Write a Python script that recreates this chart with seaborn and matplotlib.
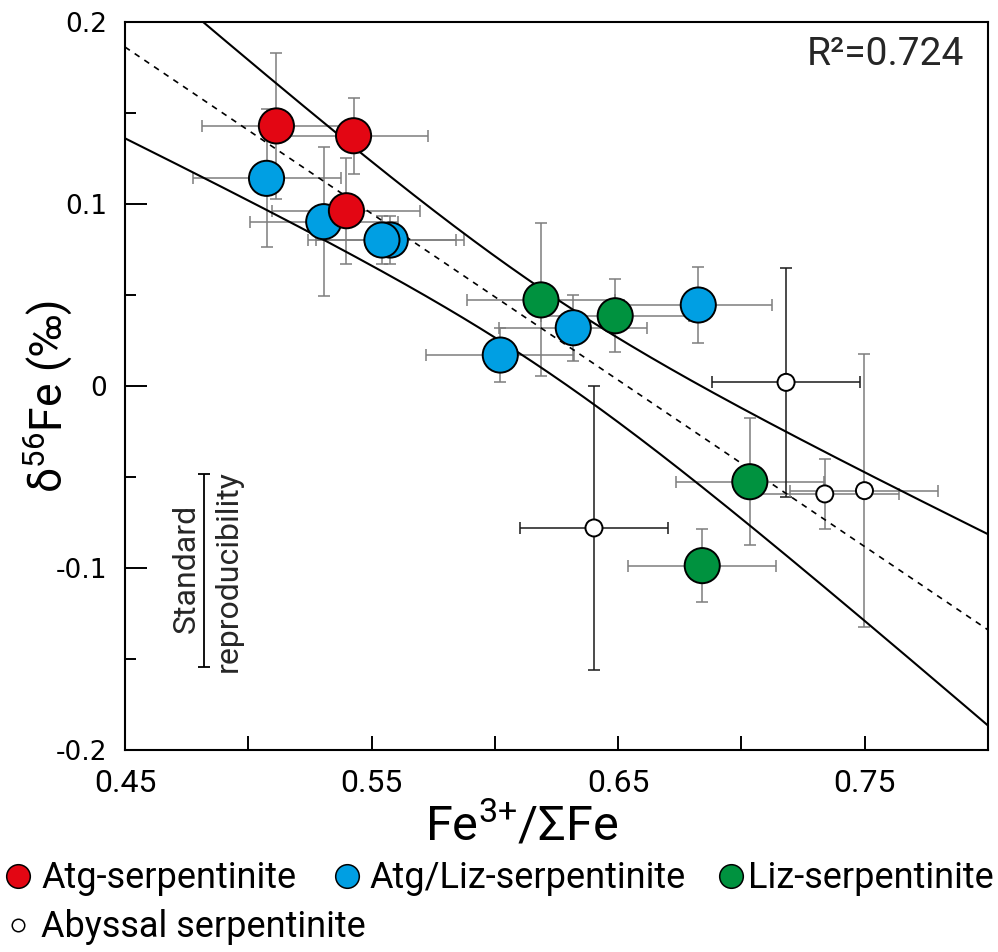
import numpy as np
import pandas as pd
import matplotlib
matplotlib.use("Agg")
import matplotlib.pyplot as plt
from matplotlib import font_manager
from matplotlib.lines import Line2D
from matplotlib.ticker import FixedLocator, FixedFormatter
import seaborn as sns

# ---- data: Fe3+/ΣFe against δ56Fe (‰), with 2SD error bars ----
atg_x = [0.5114, 0.5427, 0.5398]
atg_y = [0.1429, 0.1375, 0.0963]
atg_xerr = [0.030, 0.030, 0.030]
atg_yerr = [0.040, 0.021, 0.029]

atgliz_x = [0.5074, 0.5306, 0.5576, 0.5542, 0.6022, 0.6318, 0.6825]
atgliz_y = [0.1141, 0.0903, 0.0802, 0.0802, 0.0170, 0.0320, 0.0445]
atgliz_xerr = [0.030, 0.030, 0.030, 0.030, 0.030, 0.030, 0.030]
atgliz_yerr = [0.038, 0.041, 0.013, 0.013, 0.015, 0.018, 0.021]

liz_x = [0.6187, 0.6488, 0.7034, 0.6841]
liz_y = [0.0473, 0.0386, -0.0526, -0.0987]
liz_xerr = [0.030, 0.030, 0.030, 0.030]
liz_yerr = [0.042, 0.020, 0.035, 0.020]

abyssal_x = [0.7181, 0.7338, 0.7499, 0.6402]
abyssal_y = [0.0020, -0.0593, -0.0575, -0.0780]
abyssal_xerr = [0.030, 0.030, 0.030, 0.030]
abyssal_yerr = [0.063, 0.019, 0.075, 0.078]

group_names = ["Atg-serpentinite", "Atg/Liz-serpentinite", "Liz-serpentinite",
               "Abyssal serpentinite"]

# linear fit and its 95% confidence band
fit_slope = -0.915
fit_intercept = 0.598
band_center_x = 0.62
band_min_halfwidth = 0.0217
band_growth = 0.266
r_squared = 0.724

# analytical reproducibility (δ56Fe)
repro_center = -0.1015
repro_halfwidth = 0.053

x_tick_values = [0.45, 0.55, 0.65, 0.75]
x_tick_labels = ["0.45", "0.55", "0.65", "0.75"]
x_minor_values = [0.50, 0.60, 0.70, 0.80]
y_tick_values = [-0.2, -0.1, 0.0, 0.1, 0.2]
y_tick_labels = ["-0.2", "-0.1", "0", "0.1", "0.2"]
y_minor_values = [-0.15, -0.05, 0.05, 0.15]


def pick_font(*names):
    available = {f.name for f in font_manager.fontManager.ttflist}
    for n in names:
        if n in available:
            return n
    return "DejaVu Sans"


main_font = pick_font("Roboto", "Open Sans", "DejaVu Sans")

sns.set_theme(style="white")
plt.rcParams["font.family"] = [main_font, "DejaVu Sans"]
plt.rcParams["mathtext.fontset"] = "custom"
plt.rcParams["mathtext.rm"] = main_font
plt.rcParams["mathtext.it"] = main_font
plt.rcParams["mathtext.bf"] = main_font

RED = "#e30613"
BLUE = "#009fe3"
GREEN = "#00923f"
BAR_GRAY = "#7d7d7d"

W, H = 998, 952
fig = plt.figure(figsize=(W / 100, H / 100), dpi=100)
ax = fig.add_axes([125 / W, 1 - 750 / H, (988 - 125) / W, (750 - 22) / H])
ax.set_facecolor("white")

# ---- error bars ----
for xs, ys, xe, ye in [(atgliz_x, atgliz_y, atgliz_xerr, atgliz_yerr),
                       (liz_x, liz_y, liz_xerr, liz_yerr),
                       (atg_x, atg_y, atg_xerr, atg_yerr)]:
    ax.errorbar(xs, ys, xerr=xe, yerr=ye, fmt="none", ecolor=BAR_GRAY,
                elinewidth=1.1, capsize=4.6, capthick=1.1, zorder=1)

abyssal_bar_colors = ["#1a1a1a", BAR_GRAY, BAR_GRAY, "#1a1a1a"]
for xi, yi, xe, ye, c in zip(abyssal_x, abyssal_y, abyssal_xerr, abyssal_yerr,
                             abyssal_bar_colors):
    ax.errorbar([xi], [yi], xerr=[xe], yerr=[ye], fmt="none", ecolor=c,
                elinewidth=1.1, capsize=4.6, capthick=1.1, zorder=1)

# ---- regression line and confidence band ----
xs_fit = np.linspace(0.45, 0.80, 300)
y_fit = fit_intercept + fit_slope * xs_fit
half = np.sqrt(band_min_halfwidth ** 2 + (band_growth * (xs_fit - band_center_x)) ** 2)
sns.lineplot(x=xs_fit, y=y_fit, color="black", linewidth=1.2,
             linestyle=(0, (3.5, 3.5)), estimator=None, sort=False, ax=ax, zorder=2)
sns.lineplot(x=xs_fit, y=y_fit + half, color="black", linewidth=1.5,
             estimator=None, sort=False, ax=ax, zorder=2)
sns.lineplot(x=xs_fit, y=y_fit - half, color="black", linewidth=1.5,
             estimator=None, sort=False, ax=ax, zorder=2)

# ---- samples ----
frames = [
    pd.DataFrame({"fe3": abyssal_x, "d56": abyssal_y, "group": group_names[3]}),
    pd.DataFrame({"fe3": atgliz_x, "d56": atgliz_y, "group": group_names[1]}),
    pd.DataFrame({"fe3": liz_x, "d56": liz_y, "group": group_names[2]}),
    pd.DataFrame({"fe3": atg_x, "d56": atg_y, "group": group_names[0]}),
]
df = pd.concat(frames, ignore_index=True)
palette = {group_names[0]: RED, group_names[1]: BLUE,
           group_names[2]: GREEN, group_names[3]: "white"}
sizes = {group_names[0]: 640, group_names[1]: 640,
         group_names[2]: 640, group_names[3]: 150}
sns.scatterplot(data=df, x="fe3", y="d56", hue="group", palette=palette,
                size="group", sizes=sizes, edgecolor="black", linewidth=1.4,
                legend=False, ax=ax, zorder=3)

# ---- reproducibility bar ----
ax.errorbar([0.482], [repro_center], yerr=[repro_halfwidth], fmt="none",
            ecolor="black", elinewidth=1.3, capsize=4.3, capthick=1.3, zorder=2)
ax.text(0.4747, repro_center + 0.0015, "Standard", rotation=90, ha="center",
        va="center", fontsize=23)
ax.text(0.4919, repro_center, "reproducibility", rotation=90, ha="center",
        va="center", fontsize=23)

# ---- R² ----
ax.text(0.972, 0.955, f"R²={r_squared:.3f}", transform=ax.transAxes,
        ha="right", va="center", fontsize=28)

# ---- axes ----
ax.set_xlim(0.45, 0.80)
ax.set_ylim(-0.2, 0.2)
ax.xaxis.set_major_locator(FixedLocator(x_tick_values))
ax.xaxis.set_major_formatter(FixedFormatter(x_tick_labels))
ax.xaxis.set_minor_locator(FixedLocator(x_minor_values))
ax.yaxis.set_major_locator(FixedLocator(y_tick_values))
ax.yaxis.set_major_formatter(FixedFormatter(y_tick_labels))
ax.yaxis.set_minor_locator(FixedLocator(y_minor_values))

ax.tick_params(axis="both", which="both", direction="in", color="black",
               width=1.4, bottom=True, left=True, top=False, right=False)
ax.tick_params(axis="y", which="major", length=15.5, pad=13,
               labelsize=19, labelfontfamily="DejaVu Sans", labelcolor="black")
ax.tick_params(axis="y", which="minor", length=8)
ax.tick_params(axis="x", which="major", length=10, pad=14,
               labelsize=23, labelcolor="black")
ax.tick_params(axis="x", which="minor", length=10)

for sp in ax.spines.values():
    sp.set_visible(True)
    sp.set_color("black")
    sp.set_linewidth(1.5)

ax.set_xlabel("Fe$^{\\mathregular{3{+}}}$/ΣFe", fontsize=35, color="black")
ax.set_ylabel("δ$^{\\mathregular{56}}$Fe (‰)", fontsize=32, color="black")
ax.xaxis.label.set_va("center")
ax.yaxis.label.set_va("center")
ax.xaxis.set_label_coords((522 - 125) / 863, (750 - 826) / 728)
ax.yaxis.set_label_coords((48 - 125) / 863, (750 - 396) / 728)

# ---- legend ----
legend_rows = [
    (18, 876, 41, 888, RED, 17, group_names[0]),
    (347, 876, 369, 888, BLUE, 17, group_names[1]),
    (731, 876, 748, 888, GREEN, 17, group_names[2]),
    (18, 925, 41, 937, "white", 9, group_names[3]),
]
for mx, my, tx, ty, col, ms, label in legend_rows:
    fig.add_artist(Line2D([mx / W], [1 - my / H], transform=fig.transFigure,
                          marker="o", markersize=ms, markerfacecolor=col,
                          markeredgecolor="black", markeredgewidth=1.1,
                          linestyle="none"))
    fig.text(tx / W, 1 - ty / H, label, ha="left", va="baseline",
             fontsize=26, color="black")

fig.savefig("out.png", dpi=100, facecolor="white")
